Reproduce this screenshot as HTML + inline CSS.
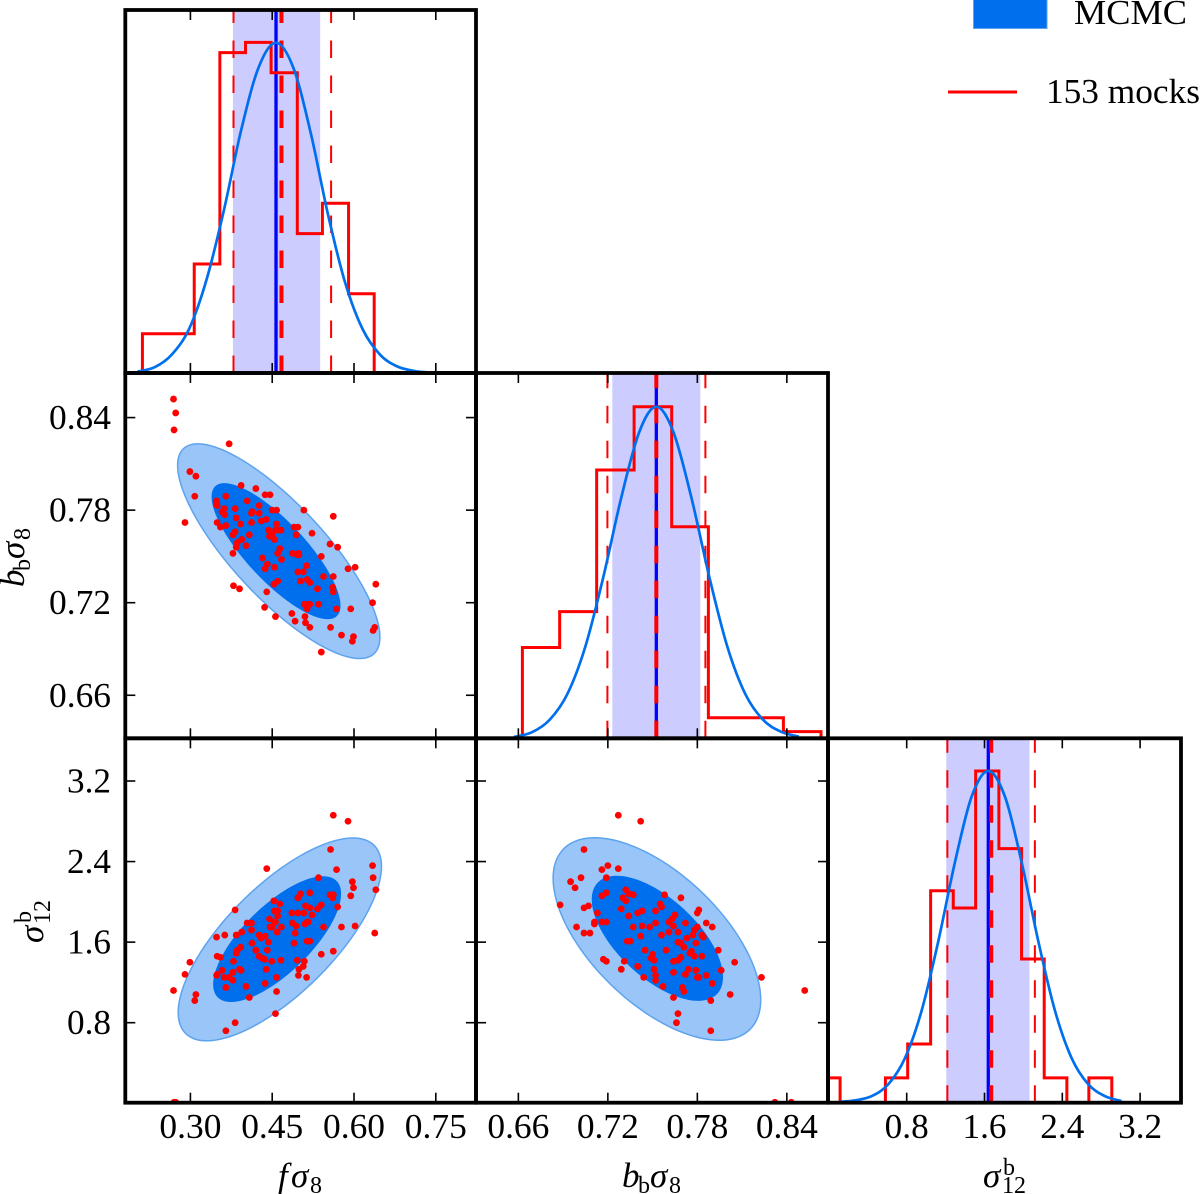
<!DOCTYPE html>
<html lang="en">
<head>
<meta charset="utf-8">
<title>Triangle plot: MCMC vs 153 mocks</title>
<style>
html,body{margin:0;padding:0;background:#fff;}
svg{display:block;}
text{font-family:"Liberation Serif","DejaVu Serif",serif;fill:#000;}
.it{font-style:italic;}
</style>
</head>
<body>
<svg id="chart" xmlns="http://www.w3.org/2000/svg" width="1200" height="1194" viewBox="0 0 1200 1194">
  <rect x="0" y="0" width="1200" height="1194" fill="#fff"/>
  <g id="panels"></g>

  <g>
    <text class="it" x="278" y="1187" font-size="35">f</text>
    <text class="it" x="291" y="1187" font-size="35">σ</text>
    <text x="310" y="1193" font-size="24">8</text>
  </g>
  <g>
    <text class="it" x="622" y="1187" font-size="35">b</text>
    <text x="638" y="1193" font-size="24">b</text>
    <text class="it" x="650" y="1187" font-size="35">σ</text>
    <text x="669" y="1193" font-size="24">8</text>
  </g>
  <g>
    <text class="it" x="983" y="1187" font-size="35">σ</text>
    <text x="1003" y="1175" font-size="24">b</text>
    <text x="1002" y="1193" font-size="24">12</text>
  </g>
  <g transform="translate(24,587) rotate(-90)">
    <text class="it" x="0" y="0" font-size="35">b</text>
    <text x="16" y="6" font-size="24">b</text>
    <text class="it" x="28" y="0" font-size="35">σ</text>
    <text x="47" y="6" font-size="24">8</text>
  </g>
  <g transform="translate(43,943) rotate(-90)">
    <text class="it" x="0" y="0" font-size="35">σ</text>
    <text x="20" y="-12" font-size="24">b</text>
    <text x="19" y="7" font-size="24">12</text>
  </g>

  <g>
    <rect x="973.5" y="-2" width="73.5" height="30.5" fill="#006fed" stroke="#5da3ed" stroke-width="1"/>
    <text x="1074" y="24" font-size="35" textLength="113" lengthAdjust="spacingAndGlyphs">MCMC</text>
    <line x1="948" y1="92" x2="1017" y2="92" stroke="#ff0000" stroke-width="3"/>
    <text x="1046" y="103" font-size="35" textLength="154" lengthAdjust="spacingAndGlyphs">153 mocks</text>
  </g>
</svg>

<script>
// ---- mock catalogue: one value per mock ----
const fs8Mock=[.269,.273,.270,.371,.299,.310,.308,.290,.393,.420,.437,.446,.365,.404,.348,.348,.349,.426,.362,.382,.358,.363,.413,.412,.426,.384,.450,.458,.508,.562,.439,.430,.412,.349,.355,.365,.392,.458,.490,.497,.443,.456,.466,.523,.382,.378,.408,.445,.449,.494,.454,.394,.386,.402,.384,.378,.556,.570,.464,.460,.487,.498,.499,.540,.432,.467,.441,.437,.454,.513,.589,.602,.497,.507,.544,.562,.640,.502,.514,.519,.460,.453,.379,.390,.440,.533,.561,.562,.509,.519,.514,.535,.568,.594,.634,.436,.456,.486,.492,.510,.511,.519,.557,.577,.599,.597,.635,.638,.540,.459,.496,.516];
const bs8Mock=[.852,.843,.832,.823,.805,.802,.789,.772,.796,.794,.790,.790,.789,.786,.786,.784,.783,.783,.781,.781,.779,.777,.779,.778,.778,.775,.780,.780,.780,.776,.774,.773,.772,.772,.769,.770,.771,.771,.769,.769,.767,.767,.767,.765,.766,.764,.764,.763,.764,.764,.761,.761,.759,.757,.756,.752,.758,.756,.755,.752,.752,.752,.751,.750,.749,.748,.745,.742,.743,.744,.742,.743,.740,.740,.737,.737,.732,.734,.735,.733,.734,.732,.731,.729,.727,.729,.730,.727,.719,.719,.716,.719,.716,.716,.720,.717,.711,.713,.708,.711,.707,.704,.704,.699,.698,.695,.702,.704,.688,.767,.751,.719];
const sigmaMock=[1.12,.01,.01,1.25,1.40,1.08,1.02,1.28,1.32,1.52,1.19,1.75,.72,1.79,1.27,1.65,1.46,1.67,1.25,1.92,1.32,1.67,1.59,1.72,1.46,1.49,1.75,1.25,1.89,1.51,1.33,1.64,1.79,1.28,1.45,1.15,1.55,1.11,1.59,2.04,1.60,.89,1.42,1.87,.80,1.30,1.05,1.83,1.41,1.76,1.80,1.70,1.52,1.16,1.67,1.22,2.07,1.95,1.98,1.91,1.79,1.27,1.33,1.48,1.44,1.75,1.52,1.66,1.91,1.25,2.80,1.76,1.89,1.36,1.75,2.07,2.12,2.08,1.61,1.61,1.86,2.01,1.41,1.33,2.33,1.93,2.04,2.86,1.41,2.09,1.80,2.24,2.32,2.06,2.36,1.43,1.80,1.89,1.69,1.78,1.96,1.94,2.52,1.75,2.14,2.20,2.24,1.69,1.97,1.70,1.42,1.80];

// ---- tick values and labels ----
const fs8Ticks=[.30,.45,.60,.75];
const fs8TickLabels=["0.30","0.45","0.60","0.75"];
const bs8Ticks=[.66,.72,.78,.84];
const bs8TickLabels=["0.66","0.72","0.78","0.84"];
const sigmaTicks=[.8,1.6,2.4,3.2];
const sigmaTickLabels=["0.8","1.6","2.4","3.2"];

// ---- 1D histograms of the mocks (bin edges, peak-normalised heights) ----
const fs8HistEdges=[.212,.307,.354,.401,.448,.496,.542,.590,.637];
const fs8HistHeights=[.119,.330,.970,1.001,.909,.422,.514,.240];
const bs8HistEdges=[.6627,.6877,.7125,.7376,.7628,.7874,.8377,.8629];
const bs8HistHeights=[.274,.382,.809,1.0,.638,.062,.020];
const sigmaHistEdges=[-.118,.115,.348,.581,.810,1.046,1.279,1.509,1.748,1.981,2.214,2.447,2.673,2.909];
const sigmaHistHeights=[.075,0,0,.075,.177,.639,.587,1,.766,.433,.075,0,.075];

// ---- 1D MCMC posterior curves ----
const fs8CurveX=[.203,.235,.266,.298,.330,.362,.393,.425,.457,.489,.521,.552,.584,.616,.648,.679,.711,.743];
const fs8CurveY=[.004,.018,.056,.135,.285,.497,.735,.925,1,.923,.724,.482,.272,.132,.055,.020,.006,.001];
const bs8CurveX=[.657,.669,.681,.693,.705,.717,.729,.741,.7525,.764,.776,.788,.800,.812,.824,.836,.848];
const bs8CurveY=[.004,.018,.056,.135,.278,.487,.726,.923,1,.923,.726,.487,.278,.135,.056,.020,.005];
const sigmaCurveX=[.098,.269,.441,.612,.783,.954,1.125,1.297,1.468,1.639,1.810,1.981,2.153,2.324,2.495,2.666,2.837,3.009];
const sigmaCurveY=[.002,.007,.020,.056,.135,.278,.487,.726,.923,1,.923,.726,.487,.278,.135,.056,.020,.005];

// ---- MCMC mean / 68% band and mock mean / 68% limits ----
const fs8Band=[.378,.538];
const bs8Band=[.723,.782];
const sigmaBand=[1.207,2.063];
const mcmcMeans=[.457,.7525,1.639];
const mockMeans=[.467,.7525,1.669];
const fs8MockLimits=[.379,.558];
const bs8MockLimits=[.7197,.7854];
const sigmaMockLimits=[1.218,2.118];

// ---- 2D contours: index 0 = outer, index 1 = inner ----
const fbCenterX=[.462,.457];
const fbCenterY=[.7534,.7534];
const fbHalfX=[.1855,.1182];
const fbHalfY=[.0696,.0441];
const fbRho=[-.8,-.8];
const fsCenterX=[.464,.459];
const fsCenterY=[1.627,1.63];
const fsHalfX=[.1864,.1173];
const fsHalfY=[1.007,.6245];
const fsRho=[.72,.72];
const bsCenterX=[.7529,.7532];
const bsCenterY=[1.631,1.638];
const bsHalfX=[.0696,.0440];
const bsHalfY=[1.0055,.621];
const bsRho=[-.6,-.62];

// ---- layout and axis functions ----
const colEdges=[125.3,476,828,1181];
const rowEdges=[10,373,738.3,1102.7];
function axis(d0,d1,p0,p1){return function(v){return p0+(v-d0)/(d1-d0)*(p1-p0);};}
const xF=axis(.1806,.8237,colEdges[0],colEdges[1]);
const xB=axis(.6316,.8676,colEdges[1],colEdges[2]);
const xS=axis(-.0093,3.6206,colEdges[2],colEdges[3]);
const yB=axis(.6321,.8689,rowEdges[2],rowEdges[1]);
const yS=axis(.0056,3.627,rowEdges[3],738);
const yDensF=axis(0,1.099,rowEdges[1],rowEdges[0]);
const yDensB=axis(0,1.1016,rowEdges[2],rowEdges[1]);
const yDensS=axis(0,1.0985,rowEdges[3],rowEdges[2]);

const NS="http://www.w3.org/2000/svg";
function el(tag,attrs,parent){
  const e=document.createElementNS(NS,tag);
  for(const k in attrs){e.setAttribute(k,attrs[k]);}
  parent.appendChild(e);
  return e;
}
const root=document.getElementById('panels');
const defs=el('defs',{},root);
let clipCount=0;

function makePanel(name,col,row){
  const box={x0:colEdges[col],x1:colEdges[col+1],y0:rowEdges[row],y1:rowEdges[row+1]};
  clipCount+=1;
  const id='clip'+clipCount;
  const cp=el('clipPath',{id:id},defs);
  el('rect',{x:box.x0,y:box.y0,width:box.x1-box.x0,height:box.y1-box.y0},cp);
  const g=el('g',{},root);
  
  
  box.g=g;
  box.marks=el('g',{'clip-path':'url(#'+id+')'},g);
  return box;
}

function drawTicks(box,xAxis,xTicks,yAxis,yTicks){
  const len=10;
  xTicks.forEach(function(v){
    const px=xAxis(v);
    const a=el('line',{x1:px,x2:px,y1:box.y0,y2:box.y0+len,stroke:'#000','stroke-width':1.6},box.g);
    
    
    const b=el('line',{x1:px,x2:px,y1:box.y1,y2:box.y1-len,stroke:'#000','stroke-width':1.6},box.g);
    
    
  });
  if(yAxis){
    yTicks.forEach(function(v){
      const py=yAxis(v);
      const a=el('line',{x1:box.x0,x2:box.x0+len,y1:py,y2:py,stroke:'#000','stroke-width':1.6},box.g);
      
      
      const b=el('line',{x1:box.x1,x2:box.x1-len,y1:py,y2:py,stroke:'#000','stroke-width':1.6},box.g);
      
      
    });
  }
}

function drawSpine(box){
  const r=el('rect',{x:box.x0,y:box.y0,width:box.x1-box.x0,height:box.y1-box.y0,fill:'none',stroke:'#000','stroke-width':3.8},box.g);
  
  
}

function ellipsePath(xAxis,yAxis,cx,cy,hx,hy,rho){
  let d='';
  const n=120;
  const q=Math.sqrt(1-rho*rho);
  for(let i=0;i<n;i++){
    const t=i/n*2*Math.PI;
    const u=cx+hx*Math.cos(t);
    const v=cy+hy*(rho*Math.cos(t)+q*Math.sin(t));
    d+=(i?'L':'M')+xAxis(u).toFixed(2)+' '+yAxis(v).toFixed(2);
  }
  return d+'Z';
}

function drawScatter(name,col,row,xAxis,yAxis,xs,ys,cx,cy,hx,hy,rho,xTicks,yTicks){
  const box=makePanel(name,col,row);
  const outer=el('path',{d:ellipsePath(xAxis,yAxis,cx[0],cy[0],hx[0],hy[0],rho[0]),fill:'#99c5f8',stroke:'#5da3ed','stroke-width':1.5},box.marks);
  
  
  const inner=el('path',{d:ellipsePath(xAxis,yAxis,cx[1],cy[1],hx[1],hy[1],rho[1]),fill:'#006fed'},box.marks);
  
  
  xs.forEach(function(v,i){
    const c=el('circle',{cx:xAxis(v).toFixed(2),cy:yAxis(ys[i]).toFixed(2),r:3.4,fill:'#ff0000'},box.marks);
    
    
  });
  drawTicks(box,xAxis,xTicks,yAxis,yTicks);
  drawSpine(box);
}

function smoothPath(pts){
  let d='M'+pts[0][0].toFixed(2)+' '+pts[0][1].toFixed(2);
  for(let i=0;i<pts.length-1;i++){
    const p0=pts[Math.max(i-1,0)],p1=pts[i],p2=pts[i+1],p3=pts[Math.min(i+2,pts.length-1)];
    const c1x=p1[0]+(p2[0]-p0[0])/6,c1y=p1[1]+(p2[1]-p0[1])/6;
    const c2x=p2[0]-(p3[0]-p1[0])/6,c2y=p2[1]-(p3[1]-p1[1])/6;
    d+='C'+c1x.toFixed(2)+' '+c1y.toFixed(2)+' '+c2x.toFixed(2)+' '+c2y.toFixed(2)+' '+p2[0].toFixed(2)+' '+p2[1].toFixed(2);
  }
  return d;
}

function drawMarginal(name,col,row,xAxis,yDens,edges,heights,curveX,curveY,band,limits,mcmcMean,mockMean,xTicks){
  const box=makePanel(name,col,row);
  const m=box.marks;
  const bandRect=el('rect',{x:xAxis(band[0]),y:box.y0,width:xAxis(band[1])-xAxis(band[0]),height:box.y1-box.y0,fill:'#ccccff'},m);
  
  
  const meanLine=el('line',{x1:xAxis(mcmcMean),x2:xAxis(mcmcMean),y1:box.y1,y2:box.y0,stroke:'#0000ff','stroke-width':3.3},m);
  
  
  limits.forEach(function(v){
    const l=el('line',{x1:xAxis(v),x2:xAxis(v),y1:box.y1,y2:box.y0,stroke:'#ff0000','stroke-width':2,'stroke-dasharray':'17.5 17.5'},m);
    
    
  });
  const mockLine=el('line',{x1:xAxis(mockMean),x2:xAxis(mockMean),y1:box.y1,y2:box.y0,stroke:'#ff0000','stroke-width':4,'stroke-dasharray':'17.5 17.5'},m);
  
  
  let d='M'+xAxis(edges[0]).toFixed(2)+' '+yDens(0).toFixed(2);
  heights.forEach(function(h,i){
    d+='L'+xAxis(edges[i]).toFixed(2)+' '+yDens(h).toFixed(2);
    d+='L'+xAxis(edges[i+1]).toFixed(2)+' '+yDens(h).toFixed(2);
  });
  d+='L'+xAxis(edges[edges.length-1]).toFixed(2)+' '+yDens(0).toFixed(2);
  const hist=el('path',{d:d,fill:'none',stroke:'#ff0000','stroke-width':3,'stroke-linejoin':'miter'},m);
  
  
  const pts=curveX.map(function(v,i){return [xAxis(v),yDens(curveY[i])];});
  const curve=el('path',{d:smoothPath(pts),fill:'none',stroke:'#006fed','stroke-width':2.7},m);
  
  
  drawTicks(box,xAxis,xTicks,null,null);
  drawSpine(box);
}

drawMarginal('panel-f-sigma8',0,0,xF,yDensF,fs8HistEdges,fs8HistHeights,fs8CurveX,fs8CurveY,fs8Band,fs8MockLimits,mcmcMeans[0],mockMeans[0],fs8Ticks);
drawMarginal('panel-b-sigma8',1,1,xB,yDensB,bs8HistEdges,bs8HistHeights,bs8CurveX,bs8CurveY,bs8Band,bs8MockLimits,mcmcMeans[1],mockMeans[1],bs8Ticks);
drawMarginal('panel-sigma12',2,2,xS,yDensS,sigmaHistEdges,sigmaHistHeights,sigmaCurveX,sigmaCurveY,sigmaBand,sigmaMockLimits,mcmcMeans[2],mockMeans[2],sigmaTicks);
drawScatter('panel-f-vs-b',0,1,xF,yB,fs8Mock,bs8Mock,fbCenterX,fbCenterY,fbHalfX,fbHalfY,fbRho,fs8Ticks,bs8Ticks);
drawScatter('panel-f-vs-sigma',0,2,xF,yS,fs8Mock,sigmaMock,fsCenterX,fsCenterY,fsHalfX,fsHalfY,fsRho,fs8Ticks,sigmaTicks);
drawScatter('panel-b-vs-sigma',1,2,xB,yS,bs8Mock,sigmaMock,bsCenterX,bsCenterY,bsHalfX,bsHalfY,bsRho,bs8Ticks,sigmaTicks);

// ---- tick labels ----
function labelWidth(s){return s.length===4?62:44;}
function drawXLabels(xAxis,ticks,labels){
  ticks.forEach(function(v,i){
    const t=el('text',{x:(xAxis(v)-labelWidth(labels[i])/2).toFixed(2),y:1138,'font-size':35,textLength:labelWidth(labels[i]),lengthAdjust:'spacingAndGlyphs'},root);
    t.textContent=labels[i];
    
    
  });
}
function drawYLabels(yAxis,ticks,labels){
  ticks.forEach(function(v,i){
    const t=el('text',{x:111-labelWidth(labels[i]),y:(yAxis(v)+11.5).toFixed(2),'font-size':35,textLength:labelWidth(labels[i]),lengthAdjust:'spacingAndGlyphs'},root);
    t.textContent=labels[i];
    
    
  });
}
drawXLabels(xF,fs8Ticks,fs8TickLabels);
drawXLabels(xB,bs8Ticks,bs8TickLabels);
drawXLabels(xS,sigmaTicks,sigmaTickLabels);
drawYLabels(yB,bs8Ticks,bs8TickLabels);
drawYLabels(yS,sigmaTicks,sigmaTickLabels);
</script>
</body>
</html>
